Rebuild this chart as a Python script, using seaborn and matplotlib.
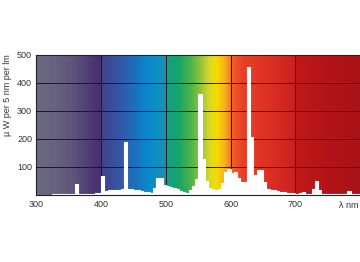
import numpy as np
import matplotlib
matplotlib.use("Agg")
import matplotlib.pyplot as plt
from matplotlib.colors import LinearSegmentedColormap
from matplotlib.ticker import MultipleLocator
import seaborn as sns
import pandas as pd

wavelengths = [320, 325, 330, 335, 340, 345, 350, 355, 360, 365, 370, 375, 380, 385, 390, 395,
               400, 405, 410, 415, 420, 425, 430, 435, 440, 445, 450, 455, 460, 465, 470, 475,
               480, 485, 490, 495, 500, 505, 510, 515, 520, 525, 530, 535, 540, 545, 550, 555,
               560, 565, 570, 575, 580, 585, 590, 595, 600, 605, 610, 615, 620, 625, 630, 635,
               640, 645, 650, 655, 660, 665, 670, 675, 680, 685, 690, 695, 700, 705, 710, 715,
               720, 725, 730, 735, 740, 745, 750, 755, 760, 765, 770, 775, 780, 785, 790, 795]
power = [0, 3, 3, 3, 3, 3, 4, 4, 38, 4, 4, 4, 4, 4, 5, 5,
         68, 12, 15, 15, 18, 18, 20, 187, 19, 19, 17, 15, 13, 10, 8, 5,
         25, 58, 58, 35, 30, 28, 24, 20, 13, 8, 5, 15, 30, 55, 360, 128,
         50, 25, 20, 18, 22, 40, 80, 92, 76, 80, 58, 46, 46, 455, 205, 70,
         88, 88, 45, 22, 18, 16, 13, 10, 8, 7, 6, 5, 4, 5, 8, 3,
         3, 20, 50, 15, 4, 3, 3, 3, 3, 3, 3, 3, 13, 3, 3, 3]
x_ticks = [300, 400, 500, 600, 700]
y_ticks = [100, 200, 300, 400, 500]

# spectrum background colour stops (wavelength, colour)
stop_wl = [300, 330, 360, 385, 398, 402, 430, 455, 470, 485, 498, 502, 520, 540, 555,
           568, 578, 590, 598, 605, 620, 650, 698, 702, 750, 800]
stop_col = ["#6c6a82", "#66627f", "#5c527a", "#4c3a72", "#483070", "#42428a", "#3458a8",
            "#1a72c0", "#0a88cc", "#0a90c4", "#1a90b4", "#10a088", "#18a468", "#50b448",
            "#98c438", "#d8d828", "#f8dc00", "#f8b818", "#f48a24", "#f05a28", "#e84028",
            "#e03424", "#cc2220", "#c01818", "#b41418", "#a81218"]

sns.set_theme(style="white")
plt.rcParams['font.family'] = ['Liberation Sans', 'DejaVu Sans']

df = pd.DataFrame({"wl": wavelengths + [800], "p": power + [power[-1]]})

fig = plt.figure(figsize=(3.6, 2.62), dpi=100)
ax = fig.add_axes([0.1008, 0.257, 0.9, 0.534])

pos = [(w - 300) / 500 for w in stop_wl]
cmap = LinearSegmentedColormap.from_list("spec", list(zip(pos, stop_col)))
grad = np.linspace(0, 1, 1000)[None, :]
ax.imshow(grad, cmap=cmap, extent=[300, 800, 0, 500], aspect="auto", zorder=0,
          interpolation="bilinear")

ax.fill_between(df["wl"], df["p"], 0, step="post", color="white", lw=0, zorder=2)
sns.lineplot(data=df, x="wl", y="p", drawstyle="steps-post", color="white", lw=0.8,
             ax=ax, zorder=2)

ax.set_xlim(300, 800)
ax.set_ylim(0, 500)
ax.set_xticks(x_ticks)
ax.set_yticks(y_ticks)
ax.xaxis.set_minor_locator(MultipleLocator(10))
ax.set_xlabel("")
ax.set_ylabel("")
ax.set_axisbelow(True)
ax.grid(True, which="major", color="#1a1a1a", lw=0.7)
ax.tick_params(axis="x", which="both", direction="in", length=2, width=0.6,
               color="#333333", labelsize=6.5, labelcolor="#333333", pad=4)
ax.tick_params(axis="y", which="both", length=0, labelsize=6.5, labelcolor="#333333", pad=3)
for s in ax.spines.values():
    s.set_color("#222222")
    s.set_linewidth(0.8)
ax.spines["right"].set_visible(False)

ax.text(0.963, -0.075, "λ nm", transform=ax.transAxes, ha="center", va="center",
        fontsize=6.5, color="#333333")
fig.text(0.022, 0.792, "µ W per 5 nm per lm", rotation=90, ha="center", va="top",
         fontsize=6.5, color="#333333")

fig.savefig("out.png", dpi=100, facecolor="white")
